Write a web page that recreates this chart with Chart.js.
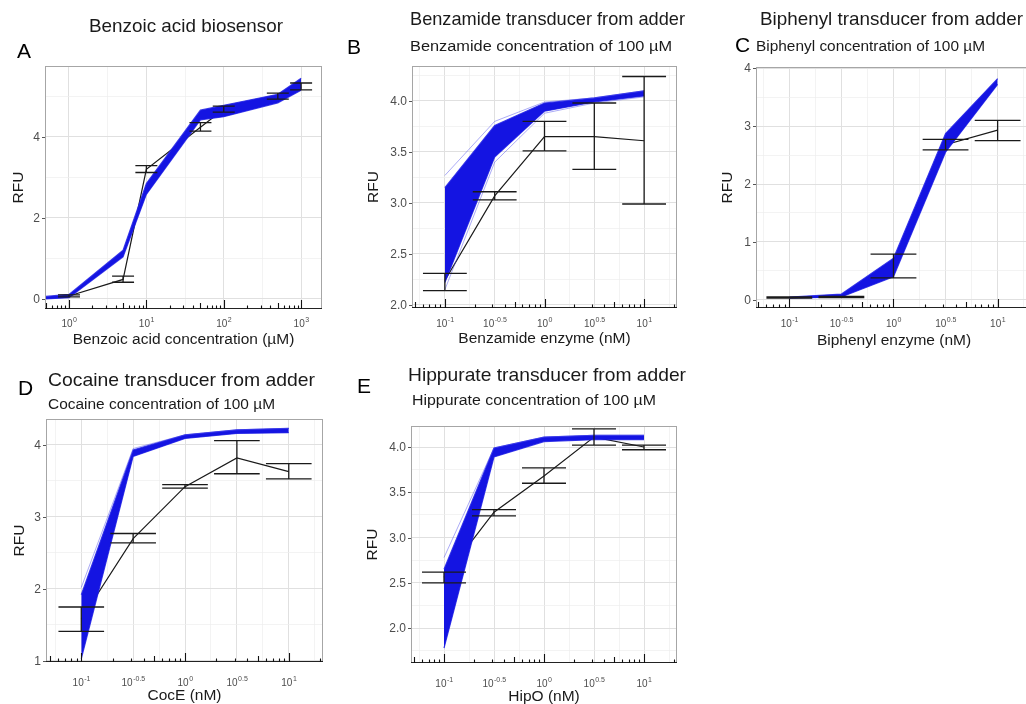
<!DOCTYPE html>
<html>
<head>
<meta charset="utf-8">
<title>Biosensor and transducer panels</title>
<script src="https://cdn.jsdelivr.net/npm/chart.js@4.4.1/dist/chart.umd.min.js"></script>
<style>
  html, body { margin: 0; padding: 0; background: #fff; width: 1026px; height: 704px; overflow: hidden; position: relative; }
  canvas { position: absolute; }
</style>
</head>
<body>
<script>
// ---- A: benzoic acid biosensor ----
const benzoicX = [0.5, 1, 5, 10, 50, 100, 500, 1000];
const benzoicBandLow = [0.00, 0.03, 1.04, 2.58, 4.42, 4.50, 4.84, 5.15];
const benzoicBandHigh = [0.06, 0.11, 1.20, 2.85, 4.66, 4.78, 5.05, 5.45];
const benzoicMeanX = [1, 5, 10, 50, 100, 500, 1000];
const benzoicMean = [0.07, 0.48, 3.20, 4.24, 4.68, 5.00, 5.24];
const benzoicErrLow = [0.05, 0.41, 3.12, 4.14, 4.61, 4.93, 5.16];
const benzoicErrHigh = [0.10, 0.56, 3.29, 4.35, 4.76, 5.08, 5.33];
const benzoicXTicks = ['0', '1', '2', '3'];
const benzoicYTicks = ['0', '2', '4'];

// enzyme doses shared by the transducer panels (nM)
const enzymeX = [0.1, 0.3162, 1, 3.162, 10];
const enzymeXTicks = ['-1', '-0.5', '0', '0.5', '1'];

// ---- B: benzamide ----
const benzamideBandLow = [2.22, 3.45, 3.90, 3.99, 4.05];
const benzamideBandHigh = [3.15, 3.76, 3.98, 4.03, 4.10];
const benzamideFaintHigh = [3.27, 3.80, 3.99, 4.03, 4.10];
const benzamideFaintLow = [2.15, 3.40, 3.88, 3.98, 4.04];
const benzamideMean = [2.24, 3.07, 3.65, 3.65, 3.61];
const benzamideErrLow = [2.14, 3.03, 3.51, 3.33, 2.99];
const benzamideErrHigh = [2.31, 3.11, 3.80, 3.98, 4.24];
const benzamideYTicks = ['2.0', '2.5', '3.0', '3.5', '4.0'];

// ---- C: biphenyl ----
const biphenylBandLow = [0.03, 0.05, 0.40, 2.55, 3.72];
const biphenylBandHigh = [0.05, 0.10, 0.72, 2.87, 3.82];
const biphenylMean = [0.04, 0.05, 0.58, 2.68, 2.93];
const biphenylErrLow = [0.03, 0.04, 0.38, 2.59, 2.75];
const biphenylErrHigh = [0.05, 0.06, 0.79, 2.77, 3.10];
const biphenylYTicks = ['0', '1', '2', '3', '4'];

// ---- D: cocaine ----
const cocaineBandLow = [1.03, 3.84, 4.09, 4.16, 4.17];
const cocaineBandHigh = [1.92, 3.93, 4.14, 4.21, 4.23];
const cocaineFaintHigh = [2.02, 3.95, 4.14, 4.21, 4.23];
const cocaineMean = [1.58, 2.70, 3.42, 3.82, 3.63];
const cocaineErrLow = [1.41, 2.64, 3.40, 3.60, 3.53];
const cocaineErrHigh = [1.75, 2.77, 3.45, 4.06, 3.74];
const cocaineYTicks = ['1', '2', '3', '4'];

// ---- E: hippurate ----
const hippurateBandLow = [1.78, 3.89, 4.06, 4.08, 4.08];
const hippurateBandHigh = [2.65, 3.99, 4.11, 4.13, 4.13];
const hippurateFaintHigh = [2.78, 3.99, 4.11, 4.13, 4.13];
const hippurateMean = [2.56, 3.28, 3.68, 4.11, 4.00];
const hippurateErrLow = [2.50, 3.24, 3.60, 4.02, 3.97];
const hippurateErrHigh = [2.62, 3.31, 3.77, 4.20, 4.02];
const hippurateYTicks = ['2.0', '2.5', '3.0', '3.5', '4.0'];

const FONT = "'Liberation Sans', Arial, sans-serif";
const BLUE = 'rgb(20,20,226)';
const BLUE_EDGE = 'rgba(35,35,230,0.85)';
const INK = '#1a1a1a';

const panels = [
  {
    box: [0, 0, 340, 360], plot: [45, 66, 322, 309],
    xMin: Math.pow(10, -0.31), xMax: Math.pow(10, 3.27), yMin: -0.25, yMax: 5.75,
    xs: benzoicX, low: benzoicBandLow, high: benzoicBandHigh, faint: [],
    meanX: benzoicMeanX, mean: benzoicMean, errLow: benzoicErrLow, errHigh: benzoicErrHigh,
    cap: 0.142, xTicks: benzoicXTicks, yTicks: benzoicYTicks,
    title: { s: 'Benzoic acid biosensor', x: 186, y: 32, w: 194, align: 'center' },
    letter: { s: 'A', x: 17, y: 58 },
    xTitle: 'Benzoic acid concentration (µM)', yTitleOff: 26, tickOff: 18, xTitleOff: 35
  },
  {
    box: [340, 0, 360, 360], plot: [412, 66, 677, 308],
    xMin: Math.pow(10, -1.33), xMax: Math.pow(10, 1.33), yMin: 1.97, yMax: 4.343,
    xs: enzymeX, low: benzamideBandLow, high: benzamideBandHigh, faint: [benzamideFaintHigh, benzamideFaintLow],
    meanX: enzymeX, mean: benzamideMean, errLow: benzamideErrLow, errHigh: benzamideErrHigh,
    cap: 0.22, xTicks: enzymeXTicks, yTicks: benzamideYTicks,
    title: { s: 'Benzamide transducer from adder', x: 410, y: 25, w: 275, align: 'left' },
    subtitle: { s: 'Benzamide concentration of 100 µM', x: 410, y: 51, w: 262 },
    letter: { s: 'B', x: 347, y: 54 },
    xTitle: 'Benzamide enzyme (nM)', yTitleOff: 38, tickOff: 19, xTitleOff: 35
  },
  {
    box: [690, 0, 350, 360], plot: [756, 67, 1032, 308],
    xMin: Math.pow(10, -1.32), xMax: Math.pow(10, 1.33), yMin: -0.14, yMax: 4.02,
    xs: enzymeX, low: biphenylBandLow, high: biphenylBandHigh, faint: [],
    meanX: enzymeX, mean: biphenylMean, errLow: biphenylErrLow, errHigh: biphenylErrHigh,
    cap: 0.22, xTicks: enzymeXTicks, yTicks: biphenylYTicks,
    title: { s: 'Biphenyl transducer from adder', x: 760, y: 25, w: 263, align: 'left' },
    subtitle: { s: 'Biphenyl concentration of 100 µM', x: 756, y: 51, w: 229 },
    letter: { s: 'C', x: 735, y: 52 },
    xTitle: 'Biphenyl enzyme (nM)', yTitleOff: 28, tickOff: 19, xTitleOff: 37
  },
  {
    box: [0, 360, 340, 344], plot: [46, 419, 323, 662],
    xMin: Math.pow(10, -1.34), xMax: Math.pow(10, 1.33), yMin: 0.986, yMax: 4.36,
    xs: enzymeX, low: cocaineBandLow, high: cocaineBandHigh, faint: [cocaineFaintHigh],
    meanX: enzymeX, mean: cocaineMean, errLow: cocaineErrLow, errHigh: cocaineErrHigh,
    cap: 0.22, xTicks: enzymeXTicks, yTicks: cocaineYTicks,
    title: { s: 'Cocaine transducer from adder', x: 48, y: 386, w: 267, align: 'left' },
    subtitle: { s: 'Cocaine concentration of 100 µM', x: 48, y: 409, w: 227 },
    letter: { s: 'D', x: 18, y: 395 },
    xTitle: 'CocE (nM)', yTitleOff: 26, tickOff: 24, xTitleOff: 38
  },
  {
    box: [340, 360, 360, 344], plot: [411, 426, 677, 663],
    xMin: Math.pow(10, -1.33), xMax: Math.pow(10, 1.33), yMin: 1.616, yMax: 4.232,
    xs: enzymeX, low: hippurateBandLow, high: hippurateBandHigh, faint: [hippurateFaintHigh],
    meanX: enzymeX, mean: hippurateMean, errLow: hippurateErrLow, errHigh: hippurateErrHigh,
    cap: 0.22, xTicks: enzymeXTicks, yTicks: hippurateYTicks,
    title: { s: 'Hippurate transducer from adder', x: 408, y: 381, w: 278, align: 'left' },
    subtitle: { s: 'Hippurate concentration of 100 µM', x: 412, y: 405, w: 244 },
    letter: { s: 'E', x: 357, y: 393 },
    xTitle: 'HipO (nM)', yTitleOff: 38, tickOff: 24, xTitleOff: 38
  }
];

// major + minor grid positions (minor halfway between majors)
function gridTicks(major, min, max, isLog) {
  const f = isLog ? Math.log10 : (v) => v;
  const g = isLog ? (v) => Math.pow(10, v) : (v) => v;
  const m = major.map(f);
  const step = m[1] - m[0];
  const lo = f(min), hi = f(max);
  const out = [];
  for (let k = -2; k <= m.length + 1; k++) {
    const a = m[0] + k * step;
    out.push({ v: a, major: k >= 0 && k < m.length });
    out.push({ v: a + step / 2, major: false });
  }
  return out.filter(t => t.v > lo + 1e-6 && t.v < hi - 1e-6)
    .map(t => ({ value: g(t.v), major: t.major }));
}

// text squeezed/stretched to the width it has in the figure
function fitText(ctx, t, x, y, font) {
  ctx.font = font;
  const w = ctx.measureText(t.s).width;
  const k = t.w ? t.w / w : 1;
  ctx.save();
  ctx.translate(x, y);
  ctx.scale(k, 1);
  ctx.textAlign = t.align || 'left';
  ctx.fillText(t.s, 0, 0);
  ctx.restore();
}

function buildPanel(p) {
  const [bx, by, bw, bh] = p.box;
  const [pl, pt, pr, pb] = p.plot;
  const canvas = document.createElement('canvas');
  canvas.width = bw;
  canvas.height = bh;
  canvas.style.left = bx + 'px';
  canvas.style.top = by + 'px';
  document.body.appendChild(canvas);

  const pts = (xs, ys) => xs.map((x, i) => ({ x: x, y: ys[i] }));
  const datasets = [];
  p.faint.forEach(f => datasets.push({ data: pts(p.xs, f), borderColor: 'rgba(70,70,235,0.45)', borderWidth: 1, fill: false }));
  datasets.push({ data: pts(p.xs, p.high), borderColor: BLUE_EDGE, borderWidth: 1.2, backgroundColor: BLUE, fill: '+1' });
  datasets.push({ data: pts(p.xs, p.low), borderColor: BLUE_EDGE, borderWidth: 1.2, fill: false });
  datasets.push({ data: pts(p.meanX, p.mean), borderColor: INK, borderWidth: 1.2, fill: false });

  const xMajor = p.xTicks.map(e => Math.pow(10, parseFloat(e)));
  const yMajor = p.yTicks.map(Number);
  const gridColor = (c) => (c.tick && c.tick.major ? '#e0e0e0' : '#eeeeee');
  const gridWidth = (c) => (c.tick && c.tick.major ? 1 : 0.7);

  const decor = {
    id: 'decor',
    afterDatasetsDraw(chart) {
      const { ctx, scales: { x, y } } = chart;
      ctx.save();
      ctx.strokeStyle = INK;
      ctx.lineWidth = 1.3;
      ctx.beginPath();
      p.meanX.forEach((xv, i) => {
        const px = x.getPixelForValue(xv);
        const xl = x.getPixelForValue(xv * Math.pow(10, -p.cap));
        const xr = x.getPixelForValue(xv * Math.pow(10, p.cap));
        const yl = y.getPixelForValue(p.errLow[i]);
        const yh = y.getPixelForValue(p.errHigh[i]);
        ctx.moveTo(px, yl); ctx.lineTo(px, yh);
        ctx.moveTo(xl, yl); ctx.lineTo(xr, yl);
        ctx.moveTo(xl, yh); ctx.lineTo(xr, yh);
      });
      ctx.stroke();
      ctx.restore();
    },
    afterDraw(chart) {
      const { ctx, chartArea: a, scales: { x, y } } = chart;
      ctx.save();
      // panel frame
      ctx.strokeStyle = '#a6a6a6';
      ctx.lineWidth = 1;
      ctx.strokeRect(a.left + 0.5, a.top + 0.5, a.right - a.left - 1, a.bottom - a.top - 1);
      ctx.strokeStyle = '#222';
      ctx.beginPath();
      ctx.moveTo(a.left, a.bottom - 0.5); ctx.lineTo(a.right, a.bottom - 0.5);
      ctx.stroke();

      // log ticks along the bottom
      ctx.strokeStyle = '#111';
      ctx.lineWidth = 1.1;
      ctx.beginPath();
      const lo = Math.floor(Math.log10(p.xMin)), hi = Math.ceil(Math.log10(p.xMax));
      for (let k = lo; k <= hi; k++) {
        for (let m = 1; m <= 9; m++) {
          const v = m * Math.pow(10, k);
          if (v <= p.xMin || v >= p.xMax) continue;
          const len = m === 1 ? 9 : (m === 5 ? 6 : 3.5);
          const px = Math.round(x.getPixelForValue(v)) + 0.5;
          ctx.moveTo(px, a.bottom); ctx.lineTo(px, a.bottom - len);
        }
      }
      ctx.stroke();

      // y ticks + labels
      ctx.strokeStyle = '#555';
      ctx.lineWidth = 1;
      ctx.fillStyle = '#4d4d4d';
      ctx.font = '12px ' + FONT;
      ctx.textAlign = 'right';
      ctx.textBaseline = 'middle';
      ctx.beginPath();
      p.yTicks.forEach(lbl => {
        const py = Math.round(y.getPixelForValue(Number(lbl))) + 0.5;
        ctx.moveTo(a.left - 3, py); ctx.lineTo(a.left, py);
        ctx.fillText(lbl, a.left - 5, py + 0.5);
      });
      ctx.stroke();

      // x tick labels as 10^e
      ctx.textAlign = 'left';
      ctx.textBaseline = 'alphabetic';
      const tb = a.bottom + p.tickOff;
      p.xTicks.forEach(e => {
        const px = x.getPixelForValue(Math.pow(10, parseFloat(e)));
        ctx.font = '10px ' + FONT;
        const w1 = ctx.measureText('10').width;
        ctx.font = '7px ' + FONT;
        const w2 = ctx.measureText(e).width;
        const sx = px - (w1 + w2) / 2;
        ctx.font = '10px ' + FONT;
        ctx.fillText('10', sx, tb);
        ctx.font = '7px ' + FONT;
        ctx.fillText(e, sx + w1 + 0.5, tb - 5);
      });

      // axis titles
      ctx.fillStyle = INK;
      ctx.font = '15.5px ' + FONT;
      ctx.textAlign = 'center';
      ctx.fillText(p.xTitle, (a.left + a.right) / 2, a.bottom + p.xTitleOff);
      ctx.save();
      ctx.translate(a.left - p.yTitleOff, (a.top + a.bottom) / 2);
      ctx.rotate(-Math.PI / 2);
      ctx.textBaseline = 'middle';
      ctx.fillText('RFU', 0, 0);
      ctx.restore();

      // titles and panel letter
      ctx.textBaseline = 'alphabetic';
      fitText(ctx, p.title, p.title.x - bx, p.title.y - by, '19px ' + FONT);
      if (p.subtitle) {
        fitText(ctx, p.subtitle, p.subtitle.x - bx, p.subtitle.y - by, '15.5px ' + FONT);
      }
      ctx.fillStyle = '#000';
      ctx.font = '21px ' + FONT;
      ctx.textAlign = 'left';
      ctx.fillText(p.letter.s, p.letter.x - bx, p.letter.y - by);
      ctx.restore();
    }
  };

  new Chart(canvas.getContext('2d'), {
    type: 'line',
    data: { datasets: datasets },
    options: {
      responsive: false,
      animation: false,
      events: [],
      layout: { padding: { left: pl - bx, top: pt - by, right: bx + bw - pr, bottom: by + bh - pb } },
      elements: { point: { radius: 0 }, line: { tension: 0 } },
      plugins: { legend: { display: false }, tooltip: { enabled: false }, title: { display: false } },
      scales: {
        x: {
          type: 'logarithmic', min: p.xMin, max: p.xMax, bounds: 'data',
          ticks: { display: false }, border: { display: false },
          grid: { drawTicks: false, color: gridColor, lineWidth: gridWidth },
          afterBuildTicks: (s) => { s.ticks = gridTicks(xMajor, p.xMin, p.xMax, true); }
        },
        y: {
          type: 'linear', min: p.yMin, max: p.yMax, bounds: 'data',
          ticks: { display: false }, border: { display: false },
          grid: { drawTicks: false, color: gridColor, lineWidth: gridWidth },
          afterBuildTicks: (s) => { s.ticks = gridTicks(yMajor, p.yMin, p.yMax, false); }
        }
      }
    },
    plugins: [decor]
  });
}

panels.forEach(buildPanel);
</script>
</body>
</html>
